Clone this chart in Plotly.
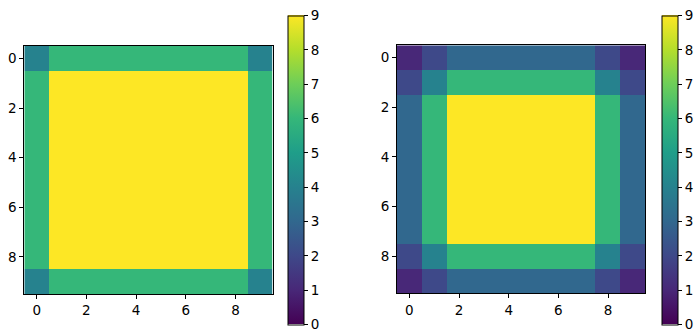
import plotly.graph_objects as go
import numpy as np

# separable profiles
left_profile = [2, 3, 3, 3, 3, 3, 3, 3, 3, 2]
right_profile = [1, 2, 3, 3, 3, 3, 3, 3, 2, 1]
left_z = np.outer(left_profile, left_profile).tolist()
right_z = np.outer(right_profile, right_profile).tolist()
tick_vals = [0, 2, 4, 6, 8]
cbar_ticks = list(range(10))

W, H = 700, 334
FONT = dict(family="DejaVu Sans", size=13.5, color="black")

def px_x(v):
    return v / W

def px_y(v):
    return (H - v) / H

fig = go.Figure()

panels = [
    (left_z, (24.3, 272.7), (46, 294), 288, "x", "y"),
    (right_z, (397, 645.3), (45.3, 293.3), 661.7, "x2", "y2"),
]
for i, (z, xr, yr, cbx, xa, ya) in enumerate(panels):
    fig.add_trace(go.Heatmap(
        z=z, x=list(range(10)), y=list(range(10)),
        colorscale="Viridis", zmin=0, zmax=9,
        xaxis=xa, yaxis=ya,
        colorbar=dict(
            x=px_x(cbx), xanchor="left", thickness=15.8, thicknessmode="pixels",
            len=308.5, lenmode="pixels", y=px_y(170), yanchor="middle",
            tickvals=cbar_ticks, ticks="outside", ticklen=4, tickwidth=1,
            tickcolor="black", outlinewidth=1, outlinecolor="black",
            tickfont=FONT, xpad=0, ypad=0,
        ),
    ))
    sfx = "" if i == 0 else "2"
    fig.update_layout(**{
        "xaxis" + sfx: dict(
            domain=[px_x(xr[0]), px_x(xr[1])], range=[-0.5, 9.5],
            tickvals=tick_vals, ticks="outside", ticklen=4, tickcolor="black",
            showline=True, mirror=True, linecolor="black", linewidth=1,
            showgrid=False, zeroline=False, tickfont=FONT,
            anchor="y" + sfx,
        ),
        "yaxis" + sfx: dict(
            domain=[px_y(yr[1]), px_y(yr[0])], range=[9.5, -0.5],
            tickvals=tick_vals, ticks="outside", ticklen=4, tickcolor="black",
            showline=True, mirror=True, linecolor="black", linewidth=1,
            showgrid=False, zeroline=False, tickfont=FONT,
            anchor="x" + sfx,
        ),
    })

fig.update_layout(
    width=W, height=H, margin=dict(l=0, r=0, t=0, b=0),
    paper_bgcolor="white", plot_bgcolor="white", showlegend=False,
)
fig.write_html("out.html")
